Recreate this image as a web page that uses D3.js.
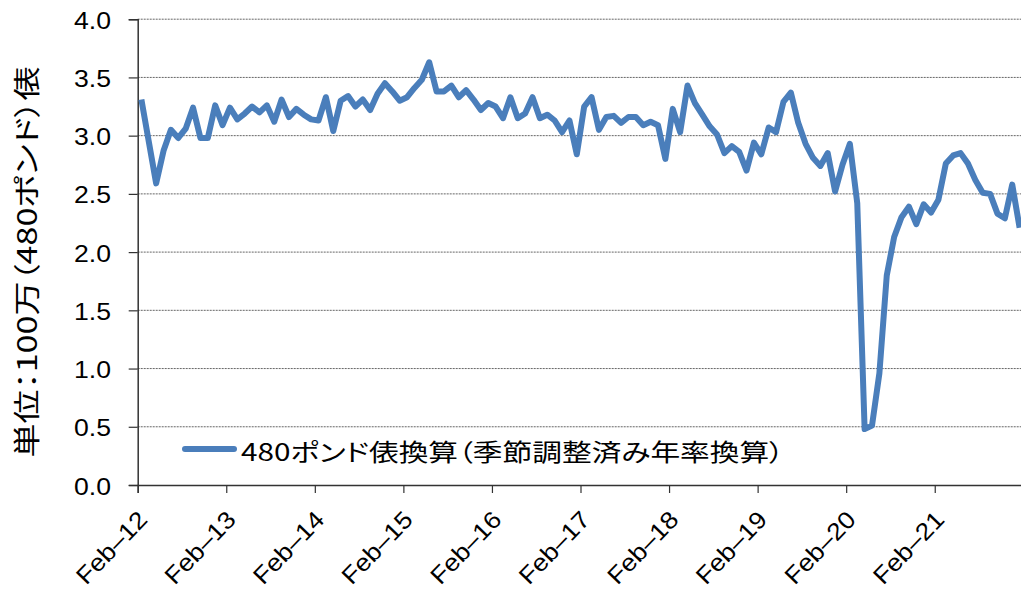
<!DOCTYPE html>
<html>
<head>
<meta charset="utf-8">
<script src="https://cdn.jsdelivr.net/npm/d3@7"></script>
<style>
  body { margin: 0; background: #fff; }
  svg { display: block; }
  .cjk { font-family: "Noto Sans CJK JP", sans-serif; font-feature-settings: "palt"; }
</style>
</head>
<body>
<div id="chart"></div>
<script>
const width = 1021,
  height = 598;

// plot area (category axis, 120 monthly categories, Feb-12 .. Jan-22)
const plot = { left: 137.7, right: 1023.3, top: 19.2, bottom: 485 };

// monthly values, million bales (480 lb), SAAR
const values = [
  3.31, 2.95, 2.59, 2.87, 3.05, 2.98, 3.06, 3.24, 2.98, 2.98, 3.26, 3.09,
  3.24, 3.14, 3.19, 3.25, 3.20, 3.26, 3.12, 3.31, 3.16, 3.23, 3.18, 3.14,
  3.13, 3.33, 3.04, 3.30, 3.34, 3.25, 3.31, 3.22, 3.36, 3.45, 3.38, 3.30,
  3.33, 3.41, 3.48, 3.63, 3.38, 3.38, 3.43, 3.33, 3.39, 3.31, 3.22, 3.28,
  3.25, 3.15, 3.33, 3.15, 3.19, 3.33, 3.15, 3.18, 3.13, 3.03, 3.13, 2.84,
  3.25, 3.33, 3.05, 3.16, 3.17, 3.11, 3.16, 3.16, 3.09, 3.12, 3.09, 2.80,
  3.23, 3.03, 3.43, 3.28, 3.18, 3.08, 3.01, 2.85, 2.91, 2.86, 2.70, 2.94,
  2.84, 3.07, 3.03, 3.29, 3.37, 3.11, 2.93, 2.81, 2.74, 2.85, 2.52, 2.75,
  2.93, 2.42, 0.48, 0.51, 0.96, 1.80, 2.13, 2.30, 2.39, 2.24, 2.41, 2.34,
  2.45, 2.76, 2.83, 2.85, 2.76, 2.62, 2.51, 2.50, 2.33, 2.29, 2.58, 2.21
];

const xTickLabels = ["Feb–12", "Feb–13", "Feb–14", "Feb–15", "Feb–16",
  "Feb–17", "Feb–18", "Feb–19", "Feb–20", "Feb–21"];
const yTicks = [0, 0.5, 1.0, 1.5, 2.0, 2.5, 3.0, 3.5, 4.0];

const seriesName = "480ポンド俵換算（季節調整済み年率換算）";
const yTitle = "単位：100万（480ポンド）俵";

const x = d3.scaleLinear().domain([0, values.length]).range([plot.left, plot.right]);
const y = d3.scaleLinear().domain([0, 4]).range([plot.bottom, plot.top]);

const svg = d3
  .select("#chart")
  .append("svg")
  .attr("width", width)
  .attr("height", height);

// gridlines
svg
  .selectAll(".grid")
  .data(yTicks.filter((d) => d > 0))
  .enter()
  .append("line")
  .attr("class", "grid")
  .attr("x1", plot.left)
  .attr("x2", width)
  .attr("y1", (d) => y(d))
  .attr("y2", (d) => y(d))
  .attr("stroke", "#666")
  .attr("stroke-width", 1)
  .attr("stroke-dasharray", "2,1");

// y axis
const yAxis = svg
  .append("g")
  .attr("transform", `translate(${plot.left},0)`)
  .call(d3.axisLeft(y).tickValues(yTicks).tickSize(9).tickFormat(""));
yAxis.select(".domain").attr("stroke", "#333").attr("stroke-width", 1.5);
yAxis.selectAll(".tick line").attr("stroke", "#333").attr("stroke-width", 1.2);

svg
  .selectAll(".ylab")
  .data(yTicks)
  .enter()
  .append("text")
  .attr("class", "ylab")
  .attr("x", 111)
  .attr("y", (d) => y(d) + 9.5)
  .attr("text-anchor", "end")
  .attr("font-family", "Liberation Sans, Arial, sans-serif")
  .attr("font-size", 24)
  .attr("textLength", 37)
  .attr("lengthAdjust", "spacingAndGlyphs")
  .attr("fill", "#000")
  .text((d) => d.toFixed(1));

// x axis
const tickIdx = xTickLabels.map((d, i) => i * 12);
const xAxis = svg
  .append("g")
  .attr("transform", `translate(0,${plot.bottom})`)
  .call(d3.axisBottom(x).tickValues(tickIdx).tickSize(8).tickFormat(""));
xAxis.select(".domain").attr("stroke", "#333").attr("stroke-width", 1.5);
xAxis.selectAll(".tick line").attr("stroke", "#333").attr("stroke-width", 1.2);

svg
  .selectAll(".xlab")
  .data(xTickLabels)
  .enter()
  .append("text")
  .attr("class", "xlab")
  .attr("transform", (d, i) => `translate(${x(tickIdx[i]) + 11},${plot.bottom + 36}) rotate(-46)`)
  .attr("text-anchor", "end")
  .attr("font-family", "Liberation Sans, Arial, sans-serif")
  .attr("font-size", 24)
  .attr("textLength", 90)
  .attr("lengthAdjust", "spacingAndGlyphs")
  .attr("fill", "#000")
  .text((d) => d);

// y title
svg
  .append("text")
  .attr("class", "cjk")
  .attr("transform", "translate(25,262) rotate(-90)")
  .attr("text-anchor", "middle")
  .attr("dominant-baseline", "central")
  .attr("font-size", 27)
  .attr("textLength", 391)
  .attr("lengthAdjust", "spacingAndGlyphs")
  .attr("fill", "#000")
  .text(yTitle);

// series line
const line = d3
  .line()
  .x((d, i) => x(i + 0.5))
  .y((d) => y(d));

svg
  .append("path")
  .datum(values)
  .attr("d", line)
  .attr("fill", "none")
  .attr("stroke", "#4a7ebb")
  .attr("stroke-width", 6)
  .attr("stroke-linejoin", "round");

// legend
const legend = svg.append("g").attr("transform", "translate(0,449)");
legend
  .append("line")
  .attr("x1", 185)
  .attr("x2", 234)
  .attr("y1", 0)
  .attr("y2", 0)
  .attr("stroke", "#4a7ebb")
  .attr("stroke-width", 6)
  .attr("stroke-linecap", "round");
legend
  .append("text")
  .attr("class", "cjk")
  .attr("x", 241)
  .attr("y", 1)
  .attr("dominant-baseline", "central")
  .attr("font-size", 24)
  .attr("textLength", 543)
  .attr("lengthAdjust", "spacingAndGlyphs")
  .attr("fill", "#000")
  .text(seriesName);
</script>
</body>
</html>
